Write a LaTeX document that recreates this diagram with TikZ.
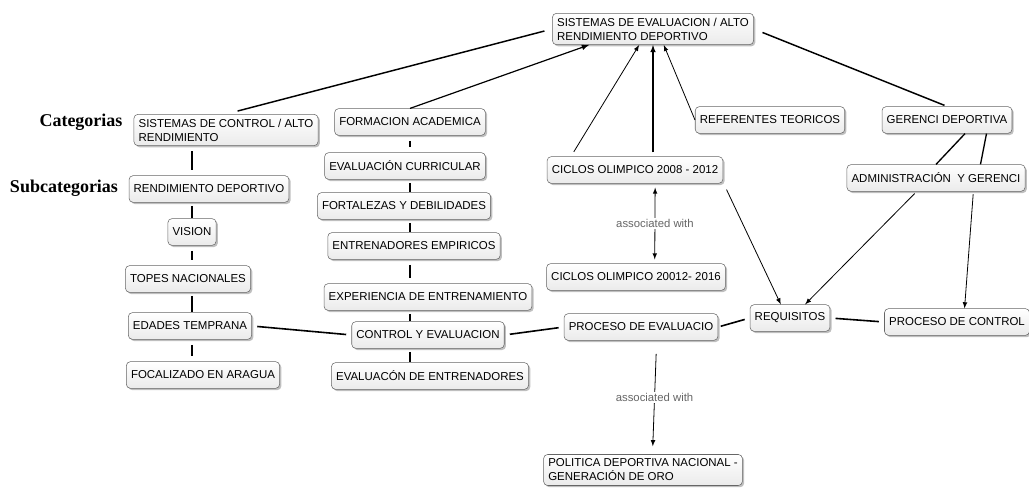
\documentclass[tikz,border=0pt]{standalone}
\usepackage{fontspec}
\setmainfont{Liberation Sans}
\newfontfamily\catfont{Liberation Serif}
\usetikzlibrary{shadows}
\begin{document}
\begin{tikzpicture}[x=0.75pt,y=-0.75pt,
  box/.style={draw=black!60, rounded corners=3pt, top color=white, bottom color=gray!16,
    minimum height=20pt, inner xsep=3.5pt, align=left, font=\fontsize{8.6}{10.5}\selectfont,
    drop shadow={opacity=0.5, shadow xshift=1.3pt, shadow yshift=-1.3pt}},
  catlabel/.style={font=\catfont\bfseries\fontsize{13.5}{15}\selectfont},
  link/.style={line width=1.2pt, shorten <=4pt, shorten >=4pt},
  short/.style={line width=1.2pt, shorten <=2.5pt, shorten >=0.5pt},
  arr/.style={-latex, semithick},
  assoc/.style={fill=white, text=black!60, inner sep=1pt, font=\fontsize{8.5}{10}\selectfont}]
\useasboundingbox (0,0) rectangle (1029,498);

\node[box] (eval) at (653,29) {SISTEMAS DE EVALUACION / ALTO\\RENDIMIENTO DEPORTIVO};

\node[catlabel] (cat) at (81,122) {Categorias};
\node[catlabel] (subcat) at (64,188) {Subcategorias};

\node[box] (control) at (226,130) {SISTEMAS DE CONTROL / ALTO\\RENDIMIENTO};
\node[box] (rend) at (209,189) {RENDIMIENTO DEPORTIVO};
\node[box] (vision) at (192,232) {VISION};
\node[box] (topes) at (188,279) {TOPES NACIONALES};
\node[box] (edades) at (190,326) {EDADES TEMPRANA};
\node[box] (focal) at (203,375) {FOCALIZADO EN ARAGUA};

\node[box] (formac) at (410,122) {FORMACION ACADEMICA};
\node[box] (curric) at (405,166) {EVALUACIÓN CURRICULAR};
\node[box] (fortal) at (404,206) {FORTALEZAS Y DEBILIDADES};
\node[box] (empir) at (414,246) {ENTRENADORES EMPIRICOS};
\node[box] (exper) at (428,297) {EXPERIENCIA DE ENTRENAMIENTO};
\node[box] (contev) at (428,335) {CONTROL Y EVALUACION};
\node[box] (evalent) at (430,376) {EVALUACÓN DE ENTRENADORES};

\node[box] (ciclosA) at (635,170) {CICLOS OLIMPICO 2008 - 2012};
\node[box] (ciclosB) at (636,277) {CICLOS OLIMPICO 20012- 2016};
\node[box] (proceval) at (641,327) {PROCESO DE EVALUACIO};
\node[box] (politica) at (643,470) {POLITICA DEPORTIVA NACIONAL -\\GENERACIÓN DE ORO};

\node[box] (refer) at (770,120) {REFERENTES TEORICOS};
\node[box] (gerenc) at (947,120) {GERENCI DEPORTIVA};
\node[box] (admin) at (936,178) {ADMINISTRACIÓN\ \ Y GERENCI};
\node[box] (requis) at (790,318) {REQUISITOS};
\node[box] (proccon) at (957,322) {PROCESO DE CONTROL};

\draw[line width=1.1pt, shorten <=6pt, shorten >=9pt] (eval.west) -- (control.north);
\draw[arr, line width=0.9pt] (formac.north) -- (eval.194);
\draw[arr, shorten <=4pt] (ciclosA.168) -- (eval.229);
\draw[arr, line width=0.9pt, shorten <=3pt] (eval.south |- ciclosA.north) -- (eval.south);
\draw[arr] (refer.west) -- (eval.304);
\draw[line width=1.1pt, shorten <=7pt, shorten >=2pt] (eval.east) -- (gerenc.north);

\draw[line width=1pt] (gerenc.323) -- (admin.north);
\draw[line width=1pt] (gerenc.341) -- (admin.17);
\draw[arr, shorten <=2pt] (admin.215) -- (requis.42);
\draw[arr, shorten <=2pt] (admin.340) -- (proccon.61);
\draw[arr, shorten <=6pt] (ciclosA.352) -- (requis.124);

\draw[latex-latex, semithick, shorten <=3pt, shorten >=3pt] (ciclosA.326) -- (ciclosB.36)
  node[assoc, midway] {associated with};
\draw[arr, shorten <=10pt, shorten >=6pt] (proceval.319) -- (politica.59)
  node[assoc, midway] {associated with};

\draw[link] (edades.east) -- (contev.west);
\draw[link] (contev.east) -- (proceval.west);
\draw[link, shorten <=2pt] (proceval.east) -- (requis.west);
\draw[link] (requis.east) -- (proccon.west);

\draw[link] (control.south -| vision) -- (rend.north -| vision);
\draw[short] (rend.south -| vision) -- (vision.north);
\draw[link] (vision.south) -- (topes.north -| vision);
\draw[short] (topes.south -| vision) -- (edades.north -| vision);
\draw[link] (edades.south -| vision) -- (focal.north -| vision);

\draw[link] (formac.south) -- (curric.north -| formac);
\draw[short] (curric.south -| formac) -- (fortal.north -| formac);
\draw[short] (fortal.south -| formac) -- (empir.north -| formac);
\draw[link] (empir.south -| formac) -- (exper.north -| formac);
\draw[short] (exper.south -| formac) -- (contev.north -| formac);
\draw[short] (contev.south -| formac) -- (evalent.north -| formac);
\end{tikzpicture}
\end{document}
